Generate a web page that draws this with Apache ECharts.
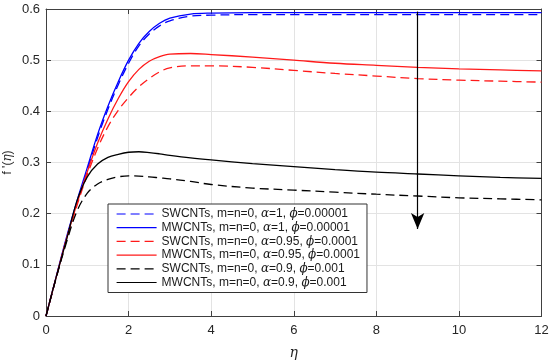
<!DOCTYPE html>
<html>
<head>
<meta charset="utf-8">
<script src="https://cdn.jsdelivr.net/npm/echarts@6/dist/echarts.min.js"></script>
<style>
html,body{margin:0;padding:0;background:#fff;}
#chart{width:550px;height:363px;}
</style>
</head>
<body>
<div id="chart"></div>
<script>
// eta grid
const eta = [0, 0.25, 0.5, 0.75, 1, 1.25, 1.5, 1.75, 2, 2.25, 2.5, 2.75, 3, 3.5, 4, 5, 6, 7, 8, 9, 10, 11, 12];
// series values f'(eta)
const swAlpha1   = [0, 0.076, 0.152, 0.221, 0.285, 0.349, 0.404, 0.452, 0.494, 0.528, 0.551, 0.567, 0.577, 0.586, 0.588, 0.589, 0.589, 0.589, 0.589, 0.589, 0.589, 0.589, 0.589];
const mwAlpha1   = [0, 0.078, 0.155, 0.225, 0.290, 0.355, 0.410, 0.458, 0.500, 0.533, 0.556, 0.572, 0.582, 0.590, 0.592, 0.593, 0.593, 0.593, 0.593, 0.593, 0.593, 0.593, 0.593];
const swAlpha095 = [0, 0.076, 0.150, 0.216, 0.276, 0.328, 0.370, 0.402, 0.427, 0.448, 0.464, 0.477, 0.485, 0.489, 0.489, 0.486, 0.480, 0.474, 0.469, 0.464, 0.461, 0.459, 0.457];
const mwAlpha095 = [0, 0.077, 0.152, 0.220, 0.282, 0.338, 0.385, 0.425, 0.458, 0.482, 0.498, 0.507, 0.512, 0.513, 0.511, 0.506, 0.500, 0.494, 0.490, 0.486, 0.483, 0.481, 0.479];
const swAlpha09  = [0, 0.075, 0.145, 0.205, 0.240, 0.258, 0.267, 0.272, 0.274, 0.2735, 0.272, 0.270, 0.268, 0.263, 0.257, 0.250, 0.246, 0.242, 0.238, 0.2345, 0.231, 0.229, 0.227];
const mwAlpha09  = [0, 0.077, 0.150, 0.225, 0.272, 0.297, 0.310, 0.316, 0.320, 0.321, 0.3195, 0.317, 0.314, 0.309, 0.305, 0.298, 0.292, 0.286, 0.281, 0.2775, 0.274, 0.271, 0.269];
const seriesNames = [
  'SWCNTs, m=n=0, α=1, ϕ=0.00001',
  'MWCNTs, m=n=0, α=1, ϕ=0.00001',
  'SWCNTs, m=n=0, α=0.95, ϕ=0.0001',
  'MWCNTs, m=n=0, α=0.95, ϕ=0.0001',
  'SWCNTs, m=n=0, α=0.9, ϕ=0.001',
  'MWCNTs, m=n=0, α=0.9, ϕ=0.001'
];
const xTicks = [0, 2, 4, 6, 8, 10, 12];
const yTicks = [0, 0.1, 0.2, 0.3, 0.4, 0.5, 0.6];
// arrow (eta, top value, bottom value)
const arrowEta = 9;
const arrowTop = 0.595;
const arrowBottom = 0.17;

const seriesValues = [swAlpha1, mwAlpha1, swAlpha095, mwAlpha095, swAlpha09, mwAlpha09];
const colors = ['#0000ff', '#0000ff', '#ff1a1a', '#ff1a1a', '#000000', '#000000'];
const dashed = [true, false, true, false, true, false];

const chart = echarts.init(document.getElementById('chart'), null, {renderer: 'canvas'});
const axisColor = '#404040';
const font = 'Liberation Sans, Arial, Helvetica, sans-serif';

const series = seriesValues.map((vals, i) => ({
  name: seriesNames[i],
  type: 'line',
  xAxisIndex: 0,
  yAxisIndex: 0,
  data: eta.map((x, k) => [x, vals[k]]),
  smooth: 0.35,
  symbol: 'none',
  color: colors[i],
  lineStyle: {color: colors[i], width: 1.3, type: dashed[i] ? [9, 5] : 'solid'},
  z: 3
}));
series.push({
  name: 'arrow',
  type: 'line',
  data: [],
  symbol: 'none',
  markLine: {
    silent: true,
    symbol: ['none', 'arrow'],
    symbolSize: [10, 16],
    label: {show: false},
    lineStyle: {color: '#000', width: 1.2, type: 'solid'},
    data: [[{coord: [arrowEta, arrowTop]}, {coord: [arrowEta, arrowBottom]}]]
  },
  z: 4
});

const legendFormatter = (name) => '{n|' + name.replace(/([αϕ])/g, '}{g|$1}{n|') + '}';

chart.setOption({
  animation: false,
  backgroundColor: '#fff',
  grid: {left: 46, right: 8.5, top: 9, bottom: 47, containLabel: false, outerBoundsMode: 'none'},
  xAxis: [{
    type: 'value', min: 0, max: 12, interval: 2, position: 'bottom',
    axisLine: {onZero: false, lineStyle: {color: axisColor, width: 1}},
    axisTick: {inside: true, length: 5, lineStyle: {color: axisColor}},
    axisLabel: {color: '#262626', fontSize: 13, fontFamily: font, margin: 8,
      formatter: (v) => xTicks.includes(v) ? String(v) : ''},
    splitLine: {show: true, lineStyle: {color: '#e3e3e3', width: 1}},
    name: 'η', nameLocation: 'middle', nameGap: 30, nameMoveOverlap: false,
    nameTextStyle: {fontSize: 14, fontStyle: 'italic', fontFamily: 'DejaVu Serif, serif', color: '#262626'}
  }, {
    type: 'value', min: 0, max: 12, interval: 2, position: 'top',
    axisLine: {onZero: false, lineStyle: {color: axisColor, width: 1}},
    axisTick: {inside: true, length: 5, lineStyle: {color: axisColor}},
    axisLabel: {show: false}, splitLine: {show: false}
  }],
  yAxis: [{
    type: 'value', min: 0, max: 0.6, interval: 0.1, position: 'left',
    axisLine: {show: true, onZero: false, lineStyle: {color: axisColor, width: 1}},
    axisTick: {show: true, inside: true, length: 5, lineStyle: {color: axisColor}},
    axisLabel: {color: '#262626', fontSize: 13, fontFamily: font, margin: 6,
      formatter: (v) => {
        const t = yTicks.find(y => Math.abs(y - v) < 1e-9);
        return t === undefined ? '' : (t === 0 ? '0' : t.toFixed(1));
      }},
    splitLine: {show: true, lineStyle: {color: '#e3e3e3', width: 1}},
    name: "{n|f '(}{g|η}{n|)}", nameLocation: 'middle', nameGap: 38, nameRotate: 90,
    nameMoveOverlap: false,
    nameTextStyle: {
      color: '#262626', fontSize: 12, verticalAlign: 'middle',
      rich: {
        n: {fontSize: 12, fontFamily: font, color: '#262626'},
        g: {fontSize: 12, fontFamily: 'DejaVu Serif, serif', fontStyle: 'italic', color: '#262626'}
      }
    }
  }, {
    type: 'value', min: 0, max: 0.6, interval: 0.1, position: 'right',
    axisLine: {show: true, onZero: false, lineStyle: {color: axisColor, width: 1}},
    axisTick: {show: true, inside: true, length: 5, lineStyle: {color: axisColor}},
    axisLabel: {show: false}, splitLine: {show: false}
  }],
  legend: {
    data: seriesNames,
    orient: 'vertical',
    left: 108, top: 204,
    padding: [4, 7, 4, 8],
    itemWidth: 40, itemHeight: 14, itemGap: 1.7,
    backgroundColor: '#fff',
    borderColor: '#333', borderWidth: 1,
    itemStyle: {opacity: 0},
    lineStyle: {width: 1.2},
    formatter: legendFormatter,
    textStyle: {
      color: '#1a1a1a',
      rich: {
        n: {fontSize: 12, fontFamily: font, color: '#1a1a1a'},
        g: {fontSize: 12, fontFamily: 'DejaVu Serif, serif', fontStyle: 'italic', color: '#1a1a1a'}
      }
    },
    z: 10
  },
  series: series
});
</script>
</body>
</html>
